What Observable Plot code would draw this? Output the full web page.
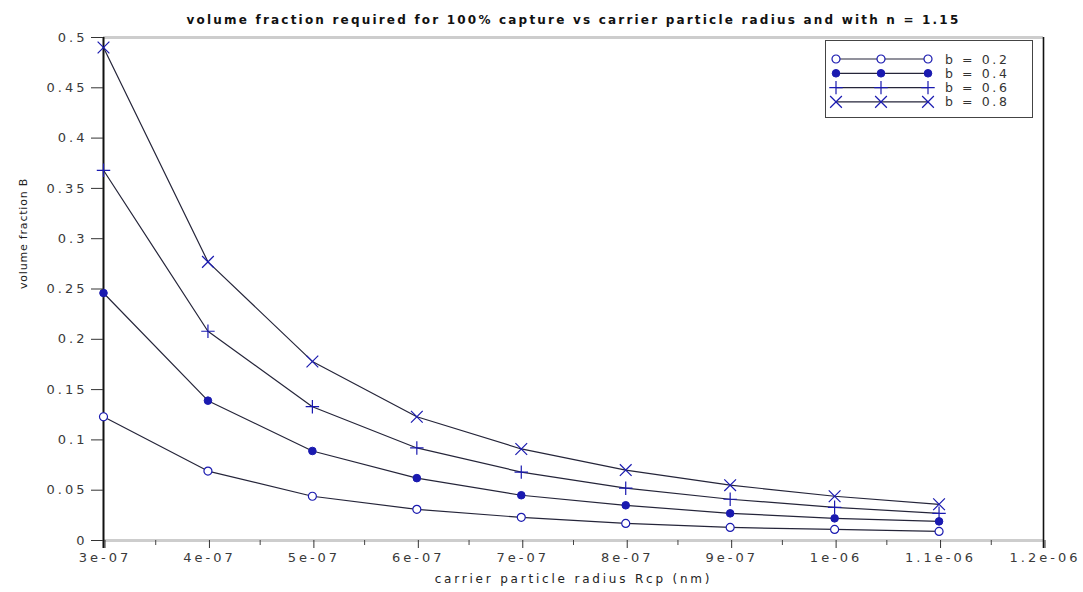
<!DOCTYPE html>
<html>
<head>
<meta charset="utf-8">
<script src="https://cdn.jsdelivr.net/npm/d3@7"></script>
<script src="https://cdn.jsdelivr.net/npm/@observablehq/plot@0.6"></script>
<style>
  html, body { margin: 0; padding: 0; background: #fff; }
  #wrap { position: relative; width: 1083px; height: 592px; font-family: "DejaVu Sans", sans-serif; }
  #legend { position: absolute; background: #fff; border: 1px solid #444; box-sizing: border-box; }
  g[aria-label="y-axis tick label"] text, g[aria-label="x-axis tick label"] text { letter-spacing: 3px; }
</style>
</head>
<body>
<div id="wrap"></div>
<script>
// ---- data ----
const radius = [3e-7, 4e-7, 5e-7, 6e-7, 7e-7, 8e-7, 9e-7, 1e-6, 1.1e-6];
const b02 = [0.123, 0.069, 0.044, 0.031, 0.023, 0.017, 0.013, 0.011, 0.009];
const b04 = [0.246, 0.139, 0.089, 0.062, 0.045, 0.035, 0.027, 0.022, 0.019];
const b06 = [0.368, 0.208, 0.133, 0.092, 0.068, 0.052, 0.041, 0.033, 0.027];
const b08 = [0.490, 0.277, 0.178, 0.123, 0.091, 0.070, 0.055, 0.044, 0.036];
const seriesNames = ["b = 0.2", "b = 0.4", "b = 0.6", "b = 0.8"];
const seriesValues = [b02, b04, b06, b08];
const yTicks = [0, 0.05, 0.1, 0.15, 0.2, 0.25, 0.3, 0.35, 0.4, 0.45, 0.5];
const yTickLabels = ["0", "0.05", "0.1", "0.15", "0.2", "0.25", "0.3", "0.35", "0.4", "0.45", "0.5"];
const xTicks = [3e-7, 4e-7, 5e-7, 6e-7, 7e-7, 8e-7, 9e-7, 1e-6, 1.1e-6, 1.2e-6];
const xTickLabels = ["3e-07", "4e-07", "5e-07", "6e-07", "7e-07", "8e-07", "9e-07", "1e-06", "1.1e-06", "1.2e-06"];
const xMinorTicks = [3.5e-7, 4.5e-7, 5.5e-7, 6.5e-7, 7.5e-7, 8.5e-7, 9.5e-7, 1.05e-6, 1.15e-6];
const titleText = "volume fraction required for 100% capture vs carrier particle radius and with n = 1.15";
const xLabel = "carrier particle radius Rcp (nm)";
const yLabel = "volume fraction B";

// ---- styles ----
const lineColor = "#25253a";
const markColor = "#1a1ab0";
const styles = [
  {symbol: "circle", fill: "white", stroke: markColor, r: 4, sw: 1.2},
  {symbol: "circle", fill: markColor, stroke: markColor, r: 3.8, sw: 1},
  {symbol: "plus", fill: "none", stroke: markColor, r: 4.4, sw: 1.2},
  {symbol: "times", fill: "none", stroke: markColor, r: 5.4, sw: 1.2}
];

const rows = [];
seriesNames.forEach((s, si) => radius.forEach((x, i) => rows.push({series: s, si, x, y: seriesValues[si][i]})));

const font = "DejaVu Sans, sans-serif";
const marks = [
  Plot.ruleY([0, 0.5], {stroke: "#cdcdcd", strokeWidth: 3}),
  Plot.ruleX([xTicks[0]], {stroke: "#111", strokeWidth: 2, insetBottom: -8}),
  Plot.ruleX([xTicks[xTicks.length - 1]], {stroke: "#111", strokeWidth: 1.6, insetBottom: -8}),
  Plot.line(rows, {x: "x", y: "y", z: "series", stroke: lineColor, strokeWidth: 1.2})
];
styles.forEach((st, si) => {
  marks.push(Plot.dot(rows.filter(d => d.si === si), {
    x: "x", y: "y", symbol: () => st.symbol, r: st.r,
    fill: st.fill, stroke: st.stroke, strokeWidth: st.sw
  }));
});
marks.push(
  Plot.axisY({ticks: yTicks, tickFormat: (d) => yTickLabels[yTicks.indexOf(d)], tickSize: 12, tickPadding: 4,
    label: null, fontSize: 13, stroke: "#333", fill: "#3a3a3a"}),
  Plot.axisX({ticks: xTicks, tickFormat: (d) => xTickLabels[xTicks.indexOf(d)], tickSize: 8, tickPadding: 4,
    label: null, fontSize: 13, stroke: "#333", fill: "#3a3a3a", dx: 1.5}),
  Plot.axisX({ticks: xMinorTicks, tickFormat: () => "", tickSize: 5, label: null, stroke: "#444"}),
  Plot.text([titleText], {text: d => d, frameAnchor: "top", dy: -22, fontSize: 12, fill: "#111", fontWeight: 600}),
  Plot.text([xLabel], {text: d => d, frameAnchor: "bottom", dy: 42, fontSize: 12, fill: "#222"}),
  Plot.text([yLabel], {text: d => d, frameAnchor: "left", dx: -80, rotate: -90, fontSize: 11, fill: "#222"})
);

const chart = Plot.plot({
  width: 1083,
  height: 592,
  marginLeft: 103,
  marginRight: 40,
  marginTop: 37,
  marginBottom: 52,
  style: {fontFamily: font, background: "white", fontSize: "12px"},
  x: {domain: [xTicks[0], xTicks[xTicks.length - 1]]},
  y: {domain: [0, 0.5]},
  marks
});
const wrap = document.getElementById("wrap");
wrap.appendChild(chart);

// letter spacing tweaks for the wide, spaced lettering of the original
d3.select(chart).selectAll('g[aria-label="text"] text').each(function() {
  const t = d3.select(this), s = t.text();
  if (s === titleText) t.style("letter-spacing", "2.2px");
  else if (s === xLabel) t.style("letter-spacing", "2.8px");
  else if (s === yLabel) t.style("letter-spacing", "0.8px");
});

// ---- legend (HTML overlay) ----
const leg = d3.select(wrap).append("div").attr("id", "legend")
  .style("left", "825px").style("top", "40px").style("width", "208px").style("height", "78px");
const lsvg = leg.append("svg").attr("width", 206).attr("height", 76);
const symMap = {circle: d3.symbolCircle, plus: d3.symbolPlus, times: d3.symbolTimes};
styles.forEach((st, i) => {
  const y = 18 + i * 14.3;
  const g = lsvg.append("g");
  g.append("line").attr("x1", 10).attr("x2", 102).attr("y1", y).attr("y2", y)
    .attr("stroke", lineColor).attr("stroke-width", 1.2);
  [10, 55, 102].forEach(x => {
    g.append("path").attr("d", d3.symbol(symMap[st.symbol], Math.PI * st.r * st.r)())
      .attr("transform", `translate(${x},${y})`)
      .attr("fill", st.fill).attr("stroke", st.stroke).attr("stroke-width", st.sw);
  });
  g.append("text").attr("x", 119).attr("y", y).attr("dy", "0.36em")
    .attr("font-family", font).attr("font-size", 12.5).attr("letter-spacing", "2.6px")
    .attr("fill", "#333").text(seriesNames[i]);
});
</script>
</body>
</html>
